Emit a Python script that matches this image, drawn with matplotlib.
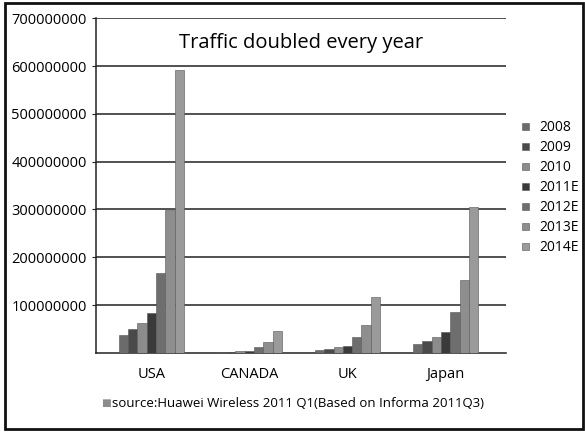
import numpy as np
import matplotlib.pyplot as plt
from matplotlib.patches import Patch, Rectangle

plt.rcParams['font.family'] = ['Open Sans', 'DejaVu Sans']

countries = ["USA", "CANADA", "UK", "Japan"]
years = ["2008", "2009", "2010", "2011E", "2012E", "2013E", "2014E"]

# traffic per country, one list per year
v2008 = [38e6, 1e6, 7e6, 19e6]
v2009 = [50e6, 1.5e6, 9e6, 25e6]
v2010 = [63e6, 4e6, 12e6, 33e6]
v2011 = [84e6, 5e6, 15e6, 43e6]
v2012 = [167e6, 12e6, 33e6, 85e6]
v2013 = [299e6, 23e6, 58e6, 153e6]
v2014 = [592e6, 45e6, 116e6, 306e6]
series = [v2008, v2009, v2010, v2011, v2012, v2013, v2014]

colors = ["#6b6b6b", "#4a4a4a", "#8c8c8c", "#3a3a3a", "#6e6e6e", "#8e8e8e", "#9a9a9a"]

fig = plt.figure(figsize=(5.85, 4.33), dpi=100)
ax = fig.add_axes([0.164, 0.185, 0.701, 0.773])

x = np.arange(len(countries))
w = 0.095
for i, (vals, c) in enumerate(zip(series, colors)):
    ax.bar(x + (i - 3) * w, vals, width=w, color=c, edgecolor="#555555",
           linewidth=0.4, zorder=3)

ax.set_xlim(-0.566, 3.617)
ax.set_ylim(0, 700e6)
ax.set_yticks(np.arange(100e6, 800e6, 100e6))
ax.set_yticklabels([f"{int(t)}" for t in np.arange(100e6, 800e6, 100e6)])
ax.yaxis.grid(True, color="#222222", linewidth=1.1, zorder=0)
ax.set_xticks(x)
ax.set_xticklabels(countries)
ax.tick_params(axis="x", length=0, pad=10, labelsize=10.5)
ax.tick_params(axis="y", length=3, labelsize=10.5, color="#222222")
for s in ["top", "right"]:
    ax.spines[s].set_visible(False)
ax.spines["left"].set_color("#222222")
ax.spines["bottom"].set_color("#222222")
ax.spines["left"].set_linewidth(1.1)
ax.spines["bottom"].set_linewidth(1.1)

ax.text(0.5, 0.925, "Traffic doubled every year", transform=ax.transAxes,
        ha="center", va="center", fontsize=14.5)

handles = [Patch(facecolor=c, edgecolor="#555555", linewidth=0.4) for c in colors]
fig.legend(handles, years, loc="center left", bbox_to_anchor=(0.893, 0.566),
           frameon=False, handlelength=0.5, handleheight=0.5, handletextpad=0.75,
           labelspacing=0.36, fontsize=10, borderpad=0, borderaxespad=0)

fig.text(0.172, 0.067, "\u25a0", color="#8c8c8c", fontsize=7.5, va="center")
fig.text(0.191, 0.067, "source:Huawei Wireless 2011 Q1(Based on Informa 2011Q3)",
         fontsize=9.5, va="center")

fig.add_artist(Rectangle((0.008, 0.01), 0.988, 0.982, transform=fig.transFigure,
                         fill=False, edgecolor="#111111", linewidth=2))

fig.savefig("out.png", dpi=100)
